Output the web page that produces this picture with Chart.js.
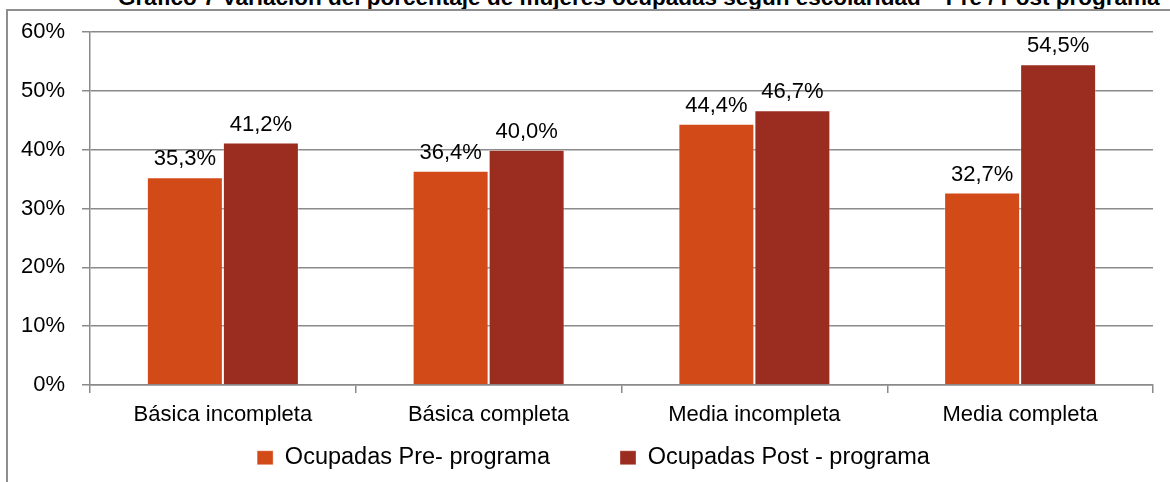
<!DOCTYPE html>
<html>
<head>
<meta charset="utf-8">
<script src="https://cdn.jsdelivr.net/npm/chart.js@4.4.0/dist/chart.umd.min.js"></script>
<style>
  html, body { margin: 0; padding: 0; background: #fff; overflow: hidden; }
  body { width: 1170px; height: 482px; position: relative; font-family: "Liberation Sans", Arial, sans-serif; }
  #title { position: absolute; left: 118px; top: -13px; font: bold 22.5px/1 "Liberation Sans", Arial, sans-serif;
    white-space: nowrap; color: #000; z-index: 0; }
  #frame { position: absolute; left: 6px; top: 9px; width: 1300px; height: 600px; border: 2px solid #8e8e8e;
    background: #fff; z-index: 1; }
  #wrap { position: absolute; left: 0; top: 0; width: 1170px; height: 482px; z-index: 2; }
</style>
</head>
<body>
<div id="title">Gráfico 7 Variación del porcentaje de mujeres ocupadas según escolaridad – Pre / Post programa</div>
<div id="frame"></div>
<div id="wrap"><canvas id="chart" width="1170" height="482"></canvas></div>
<script>
// Ocupadas pre / post programa, por escolaridad (%)
const categories = ["Básica incompleta", "Básica completa", "Media incompleta", "Media completa"];
const prePrograma = [35.3, 36.4, 44.4, 32.7];
const postPrograma = [41.2, 40.0, 46.7, 54.5];
const yTicks = [0, 10, 20, 30, 40, 50, 60];

const FONT = "'Liberation Sans', Arial, sans-serif";
const GRID = "#8a8a8a";
const fmt = (v) => v.toFixed(1).replace(".", ",") + "%";

// value labels above each bar
const barLabels = {
  id: "barLabels",
  afterDatasetsDraw(chart) {
    const ctx = chart.ctx;
    ctx.save();
    ctx.font = "22px " + FONT;
    ctx.fillStyle = "#000";
    ctx.textAlign = "center";
    ctx.textBaseline = "alphabetic";
    chart.data.datasets.forEach((ds, i) => {
      chart.getDatasetMeta(i).data.forEach((bar, j) => {
        ctx.fillText(fmt(ds.data[j]), bar.x, bar.y - 12);
      });
    });
    ctx.restore();
  },
};

// legend uses a wide label padding for item spacing; pull its box up under the axis
const legendSpot = {
  id: "legendSpot",
  afterLayout(chart) {
    const lg = chart.legend;
    lg.top = 376;
    lg.bottom = chart.height;
    lg.height = lg.bottom - lg.top;
    lg.left += 7;
    lg.right += 7;
  },
};

new Chart(document.getElementById("chart"), {
  type: "bar",
  data: {
    labels: categories,
    datasets: [
      { label: "Ocupadas Pre- programa", data: prePrograma, backgroundColor: "#D24A18",
        borderColor: "rgba(255,255,255,0.35)", borderWidth: 1 },
      { label: "Ocupadas Post - programa", data: postPrograma, backgroundColor: "#9A2D1F",
        borderColor: "rgba(255,255,255,0.35)", borderWidth: 1 },
    ],
  },
  options: {
    responsive: false, animation: false,
    layout: { padding: { left: 20, right: 17, top: 32, bottom: 11 } },
    datasets: { bar: { barPercentage: 1, categoryPercentage: 0.572 } },
    scales: {
      x: {
        grid: { offset: true, drawOnChartArea: false, drawTicks: true, tickLength: 8, color: GRID, lineWidth: 1.5 },
        border: { color: GRID, width: 1.5 },
        ticks: { color: "#000", font: { family: FONT, size: 22, lineHeight: 1 }, padding: 11, maxRotation: 0 },
        afterFit: (s) => { s.height = 40; },
      },
      y: {
        min: 0, max: 60,
        afterBuildTicks: (s) => { s.ticks = yTicks.map((v) => ({ value: v })); },
        grid: { color: GRID, lineWidth: 1.5, tickLength: 8 },
        border: { color: GRID, width: 1.5 },
        ticks: { color: "#000", font: { family: FONT, size: 22 }, padding: 17, callback: (v) => v + "%" },
        afterFit: (s) => { s.width = 70; },
      },
    },
    plugins: {
      legend: {
        position: "bottom", maxHeight: 46,
        labels: { color: "#000", font: { family: FONT, size: 23.5 }, boxWidth: 16, boxHeight: 14, padding: 70 },
      },
      tooltip: { enabled: false },
    },
  },
  plugins: [barLabels, legendSpot],
});
</script>
</body>
</html>
